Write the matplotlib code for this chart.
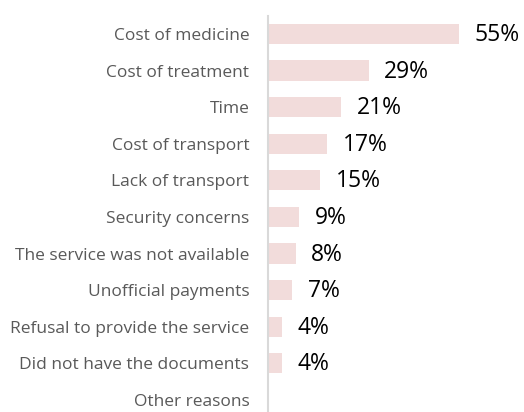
import matplotlib
matplotlib.use('Agg')
import matplotlib.pyplot as plt

# reasons for not getting care, share of respondents (%)
reasons = ['Cost of medicine', 'Cost of treatment', 'Time', 'Cost of transport',
           'Lack of transport', 'Security concerns', 'The service was not available',
           'Unofficial payments', 'Refusal to provide the service',
           'Did not have the documents', 'Other reasons']
shares = [55, 29, 21, 17, 15, 9, 8, 7, 4, 4, 0]

plt.rcParams['font.family'] = ['Open Sans', 'DejaVu Sans']

fig = plt.figure(figsize=(5.24, 4.12), dpi=100)
ax = fig.add_axes([268 / 524, 0.0, 256 / 524, (412 - 16) / 412])

pos = list(range(len(reasons)))
ax.barh(pos, shares, height=0.55, color='#F2DCDB')

for y, v in zip(pos, shares):
    if v > 0:
        ax.text(v + 4.5, y + 0.03, '%d%%' % v, va='center', ha='left', fontsize=16.5, color='black')

ax.set_yticks(pos)
ax.set_yticklabels(reasons, fontsize=12.5, color='#595959')
ax.tick_params(axis='y', length=0, pad=13.5)
ax.set_xticks([])
ax.set_xlim(0, 256 / 3.47)
ax.set_ylim(10.33, -0.49)

for s in ['top', 'right', 'bottom']:
    ax.spines[s].set_visible(False)
ax.spines['left'].set_color('#D9D9D9')
ax.spines['left'].set_linewidth(1.5)

fig.savefig('out.png', dpi=100)
